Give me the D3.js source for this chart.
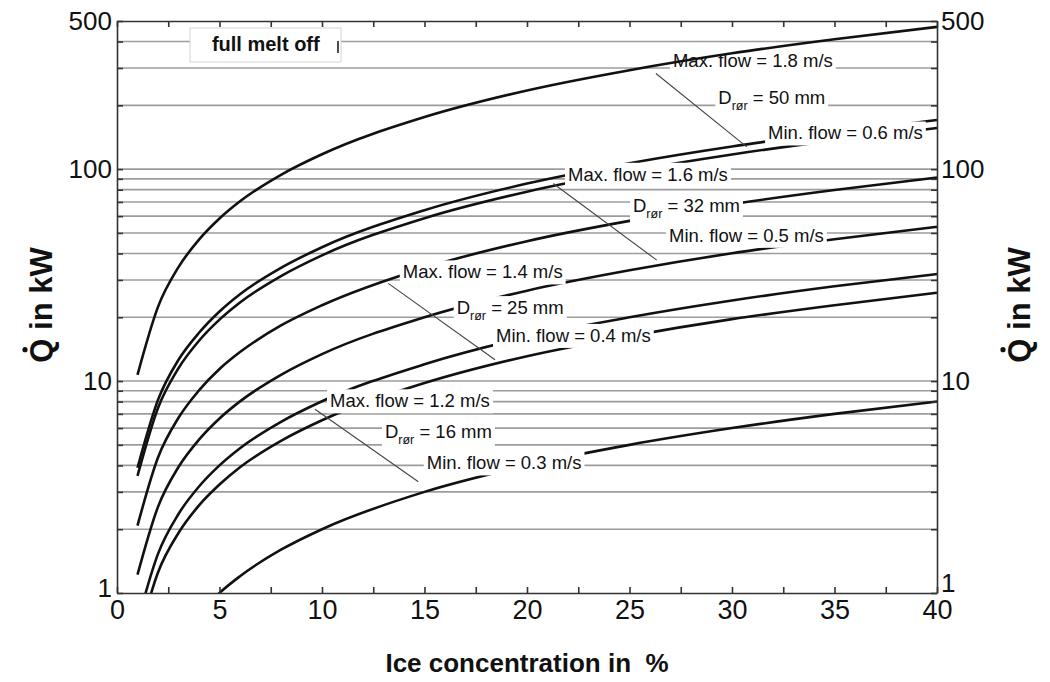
<!DOCTYPE html>
<html>
<head>
<meta charset="utf-8">
<script src="https://cdn.jsdelivr.net/npm/d3@7"></script>
<style>
  body { margin: 0; background: #fff; }
  svg { font-family: Arial, "Liberation Sans", Helvetica, sans-serif; }
  .grid line { stroke: #9c9c9c; stroke-width: 1.6; }
  .axis path, .axis line { stroke: #333; stroke-width: 1.6; }
  .axis text { fill: #111; }
  .curve { fill: none; stroke: #111; stroke-width: 2.6; }
  .lab { font-size: 18.5px; fill: #111; }
  .leader { stroke: #444; stroke-width: 1.1; }
</style>
</head>
<body>
<div id="chart"></div>
<script>
// ice concentration (%) at which the curves were read
var conc = [1, 2, 3, 4, 5, 6, 8, 10, 15, 20, 25, 30, 35, 40];

// Q in kW, one array per curve
var q50max = [10.7, 22.4, 34.5, 46.5, 58.5, 70.5, 94, 117.5, 176, 235, 293, 352, 410, 469];
var q32max = [3.9, 8.15, 12.6, 16.9, 21.3, 25.7, 34.2, 42.8, 64, 85.5, 106.7, 128, 149, 170.7];
var q50min = [3.57, 7.47, 11.5, 15.5, 19.5, 23.5, 31.3, 39.2, 58.7, 78.3, 97.7, 117.3, 136.7, 156.3];
var q25max = [2.08, 4.36, 6.71, 9.04, 11.4, 13.7, 18.3, 22.8, 34.2, 45.7, 57, 68.4, 79.7, 91.2];
var q32min = [1.22, 2.55, 3.93, 5.29, 6.66, 8.02, 10.7, 13.4, 20, 26.7, 33.3, 40.1, 46.7, 53.4];
var q16max = [0.73, 1.53, 2.36, 3.18, 4.0, 4.82, 6.42, 8.03, 12.0, 16.1, 20.0, 24.0, 28.0, 32.0];
var q25min = [0.59, 1.25, 1.92, 2.59, 3.25, 3.92, 5.22, 6.53, 9.78, 13.1, 16.3, 19.6, 22.8, 26.1];
var q16min = [0.18, 0.38, 0.59, 0.79, 1.0, 1.2, 1.6, 2.0, 3.0, 4.0, 5.0, 6.0, 7.0, 8.0];

// y axis
var yLabelTicks = [1, 10, 100, 500];
var yGridVals = [2, 3, 4, 5, 6, 7, 8, 9, 10, 20, 30, 40, 50, 60, 70, 80, 90, 100, 200, 300, 400];

// annotation text and anchor (c, Q) of its left baseline
var labText = ["Max. flow = 1.8 m/s", "D|rør| = 50 mm", "Min. flow = 0.6 m/s",
               "Max. flow = 1.6 m/s", "D|rør| = 32 mm", "Min. flow = 0.5 m/s",
               "Max. flow = 1.4 m/s", "D|rør| = 25 mm", "Min. flow = 0.4 m/s",
               "Max. flow = 1.2 m/s", "D|rør| = 16 mm", "Min. flow = 0.3 m/s"];
var labC = [27.12, 29.33, 31.76, 22.0, 25.17, 26.93, 13.94, 16.57, 18.49, 10.39, 13.07, 15.11];
var labQ = [303.8, 204, 138, 88.1, 62.9, 45.4, 30.5, 20.7, 15.3, 7.52, 5.37, 3.83];

// leader lines, max curve -> min curve
var leadC1 = [26.29, 21.28, 13.23, 9.66];
var leadQ1 = [282.8, 85.6, 28.9, 7.36];
var leadC2 = [30.72, 26.33, 18.44, 14.70];
var leadQ2 = [127.4, 37.2, 12.6, 3.35];

var svgWidth = 1050, svgHeight = 682;
var plotL = 117, plotR = 937, plotT = 21, plotB = 593;

var svg = d3.select("#chart").append("svg")
  .attr("width", svgWidth)
  .attr("height", svgHeight);

var xScale = d3.scaleLinear().domain([0, 40]).range([plotL, plotR]);
var yScale = d3.scaleLog().domain([1, 500]).range([plotB, plotT]);

svg.append("defs").append("clipPath").attr("id", "plotClip")
  .append("rect").attr("x", plotL).attr("y", plotT)
  .attr("width", plotR - plotL).attr("height", plotB - plotT);

// horizontal grid
svg.append("g").attr("class", "grid")
  .selectAll("line").data(yGridVals).enter().append("line")
  .attr("x1", plotL).attr("x2", plotR)
  .attr("y1", function(d) { return yScale(d); })
  .attr("y2", function(d) { return yScale(d); });

var line = d3.line()
  .x(function(d) { return xScale(d[0]); })
  .y(function(d) { return yScale(d[1]); })
  .curve(d3.curveMonotoneX);

function pts(arr) {
  return conc.map(function(c, i) { return [c, arr[i]]; });
}

var lower = [q32max, q50min, q25max, q32min, q16max, q25min, q16min];
var curveG = svg.append("g").attr("clip-path", "url(#plotClip)");
curveG.selectAll("path").data(lower).enter().append("path")
  .attr("class", "curve")
  .attr("d", function(d) { return line(pts(d)); });

// leader lines
svg.append("g").selectAll("line").data(leadC1).enter().append("line")
  .attr("class", "leader")
  .attr("x1", function(d, i) { return xScale(leadC1[i]); })
  .attr("y1", function(d, i) { return yScale(leadQ1[i]); })
  .attr("x2", function(d, i) { return xScale(leadC2[i]); })
  .attr("y2", function(d, i) { return yScale(leadQ2[i]); });

// labels, white box behind each one
var labG = svg.append("g");
var labs = labG.selectAll("g").data(labText).enter().append("g");
labs.each(function(t, i) {
  var g = d3.select(this);
  var bg = g.append("rect").attr("fill", "#fff");
  var txt = g.append("text").attr("class", "lab")
    .attr("x", xScale(labC[i])).attr("y", yScale(labQ[i]));
  var parts = t.split("|");
  if (parts.length > 1) {
    txt.append("tspan").text(parts[0]);
    txt.append("tspan").attr("font-size", "12.5px").attr("dy", 6).text(parts[1]);
    txt.append("tspan").attr("dy", -6).text(parts[2]);
  } else {
    txt.text(t);
  }
  var b = txt.node().getBBox();
  bg.attr("x", b.x - 3).attr("y", b.y - 1)
    .attr("width", b.width + 6).attr("height", b.height + 3);
});

// top curve is drawn over the label boxes
svg.append("path").attr("class", "curve")
  .attr("clip-path", "url(#plotClip)")
  .attr("d", line(pts(q50max)));

// "full melt off" box
var fm = svg.append("g");
var fmBox = fm.append("rect").attr("fill", "#fff").attr("stroke", "#d4d4d4").attr("stroke-width", 1);
var fmText = fm.append("text")
  .attr("x", xScale(4.63)).attr("y", yScale(360))
  .attr("font-size", "20px").attr("font-weight", "bold").attr("fill", "#111")
  .text("full melt off");
var fb = fmText.node().getBBox();
fmBox.attr("x", 190).attr("y", plotT + 7)
  .attr("width", 151).attr("height", 34);
fm.append("line")
  .attr("x1", 338).attr("x2", 338)
  .attr("y1", plotT + 20).attr("y2", plotT + 32)
  .attr("stroke", "#222").attr("stroke-width", 1.6);

// axes
var xTicks = d3.range(0, 40.1, 2.5);
svg.append("g").attr("class", "axis")
  .attr("transform", "translate(0," + plotB + ")")
  .call(d3.axisBottom(xScale).tickValues(xTicks).tickSize(-6).tickSizeOuter(0).tickPadding(7)
    .tickFormat(function(d) { return d % 5 === 0 ? d : ""; }))
  .selectAll("text").attr("font-size", "27px");

svg.append("g").attr("class", "axis")
  .attr("transform", "translate(0," + plotT + ")")
  .call(d3.axisTop(xScale).tickValues(xTicks).tickSize(-6).tickSizeOuter(0).tickFormat(""));

var yTickVals = [1].concat(yGridVals).concat([500]);
function yFmt(d) { return yLabelTicks.indexOf(d) >= 0 ? d : ""; }

var yl = svg.append("g").attr("class", "axis")
  .attr("transform", "translate(" + plotL + ",0)")
  .call(d3.axisLeft(yScale).tickValues(yTickVals).tickSize(-6).tickSizeOuter(0).tickPadding(5).tickFormat(yFmt));
yl.selectAll("text").attr("font-size", "26px");

var yr = svg.append("g").attr("class", "axis")
  .attr("transform", "translate(" + plotR + ",0)")
  .call(d3.axisRight(yScale).tickValues(yTickVals).tickSize(-6).tickSizeOuter(0).tickPadding(4).tickFormat(yFmt));
yr.selectAll("text").attr("font-size", "26px");

// the "1" labels sit a little higher, clear of the x tick labels
yl.selectAll("text").filter(function(d) { return d === 1; }).attr("dy", "0.12em");
yr.selectAll("text").filter(function(d) { return d === 1; }).attr("dy", "-0.05em");

// axis titles
svg.append("text")
  .attr("x", (plotL + plotR) / 2).attr("y", 672)
  .attr("text-anchor", "middle")
  .style("white-space", "pre")
  .attr("font-size", "26px").attr("font-weight", "bold").attr("fill", "#111")
  .text("Ice concentration in  %");

function yTitle(xPos) {
  var g = svg.append("g").attr("transform", "translate(" + xPos + ",305)rotate(-90)");
  var t = g.append("text")
    .attr("text-anchor", "middle")
    .attr("font-size", "31px").attr("font-weight", "bold").attr("fill", "#111")
    .text("Q in kW");
  var b = t.node().getBBox();
  // dot over the Q
  g.append("circle")
    .attr("cx", b.x + 13).attr("cy", b.y + 1)
    .attr("r", 2.6).attr("fill", "#111");
}
yTitle(52);
yTitle(1030);
</script>
</body>
</html>
